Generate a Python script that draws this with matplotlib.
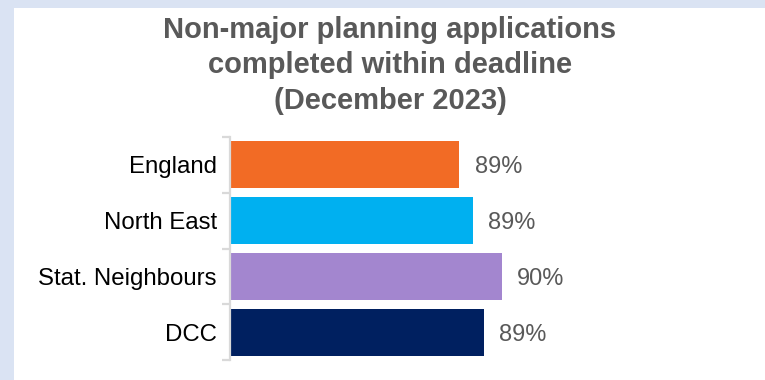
import matplotlib
matplotlib.use("Agg")
import matplotlib.pyplot as plt
from matplotlib.patches import Rectangle
from matplotlib.ticker import FixedLocator

# Data
categories = ["England", "North East", "Stat. Neighbours", "DCC"]
values = [88.55, 89.07, 90.14, 89.47]  # % completed within deadline
colors = ["#F26B25", "#00B0F0", "#A386CF", "#002060"]
title_lines = ["Non-major planning applications",
               "completed within deadline",
               "(December 2023)"]

plt.rcParams["font.family"] = ["Liberation Sans", "DejaVu Sans"]

W, H = 765, 380
fig = plt.figure(figsize=(W / 100, H / 100), dpi=100)
fig.patch.set_facecolor("white")

# Light blue frame strips along the top and left edges
band = "#DAE3F3"
fig.patches.append(Rectangle((0, 1 - 8 / H), 1, 8 / H, transform=fig.transFigure,
                             facecolor=band, edgecolor="none", zorder=0))
fig.patches.append(Rectangle((0, 0), 14 / W, 1, transform=fig.transFigure,
                             facecolor=band, edgecolor="none", zorder=0))

left, right = 230 / W, 739 / W
bottom, top = (H - 360) / H, (H - 137) / H
ax = fig.add_axes([left, bottom, right - left, top - bottom])

xmin = 80
y = list(range(len(categories)))
ax.barh(y, [v - xmin for v in values], left=xmin, height=0.845, color=colors, zorder=2)
ax.set_xlim(xmin, 99)
ax.set_ylim(3.5, -0.5)

for yi, v in zip(y, values):
    ax.annotate(f"{v:.0f}%", xy=(v, yi), xytext=(15.5, -2.5), textcoords="offset pixels",
                ha="left", va="center", fontsize=17, color="#595959")

for side in ["top", "right", "bottom"]:
    ax.spines[side].set_visible(False)
ax.spines["left"].set_color("#D9D9D9")
ax.spines["left"].set_linewidth(1.6)

ax.set_xticks([])
ax.set_yticks(y)
ax.set_yticklabels(categories, fontsize=17.3, color="#000000")
ax.tick_params(axis="y", which="major", length=0, pad=9.5)
ax.yaxis.set_minor_locator(FixedLocator([-0.5, 0.5, 1.5, 2.5, 3.5]))
ax.tick_params(axis="y", which="minor", length=5.5, width=1.6, color="#D9D9D9")

# Title, one line at a time on fixed baselines
for line, base in zip(title_lines, [38, 73, 109]):
    fig.text(390 / W, 1 - base / H, line, ha="center", va="baseline", fontsize=21,
             fontweight="bold", color="#595959")

fig.savefig("out.png", dpi=100, facecolor=fig.get_facecolor())
